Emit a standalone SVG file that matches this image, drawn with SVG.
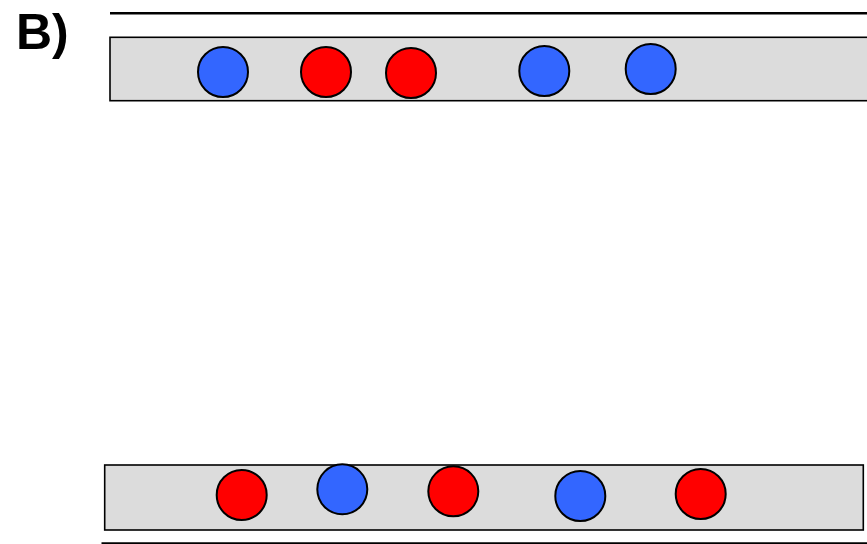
<svg xmlns="http://www.w3.org/2000/svg" width="867" height="544" viewBox="0 0 867 544">
<style>
.band{fill:#dcdcdc;stroke:#000;stroke-width:1.6}
.line{stroke:#000;stroke-width:2.5}
.blue{fill:#3366ff;stroke:#000;stroke-width:2}
.red{fill:#ff0000;stroke:#000;stroke-width:2}
.lbl{font-family:"Liberation Sans",Arial,sans-serif;font-weight:bold;font-size:50px;fill:#000}
</style>
<rect width="867" height="544" fill="#fff"/>
<text class="lbl" x="16" y="49">B)</text>
<g id="top">
<line class="line" x1="110" y1="13.3" x2="867" y2="13.3"/>
<rect class="band" x="110" y="37.3" width="760" height="63.4"/>
<circle id="t1" class="blue" cx="223" cy="72" r="25"/>
<circle id="t2" class="red" cx="326" cy="72" r="25"/>
<circle id="t3" class="red" cx="411" cy="73" r="25"/>
<circle id="t4" class="blue" cx="544.3" cy="71" r="25"/>
<circle id="t5" class="blue" cx="650.7" cy="69" r="25"/>
</g>
<g id="bottom">
<rect class="band" x="104.7" y="465" width="758.6" height="65"/>
<line class="line" x1="101.5" y1="543.5" x2="867" y2="543.5"/>
<circle id="b1" class="red" cx="241.7" cy="495" r="25"/>
<circle id="b2" class="blue" cx="342.3" cy="489.3" r="25"/>
<circle id="b3" class="red" cx="453.3" cy="491.3" r="25"/>
<circle id="b4" class="blue" cx="580.3" cy="496" r="25"/>
<circle id="b5" class="red" cx="700.7" cy="494" r="25"/>
</g>
<g id="connectors"/>
</svg>
